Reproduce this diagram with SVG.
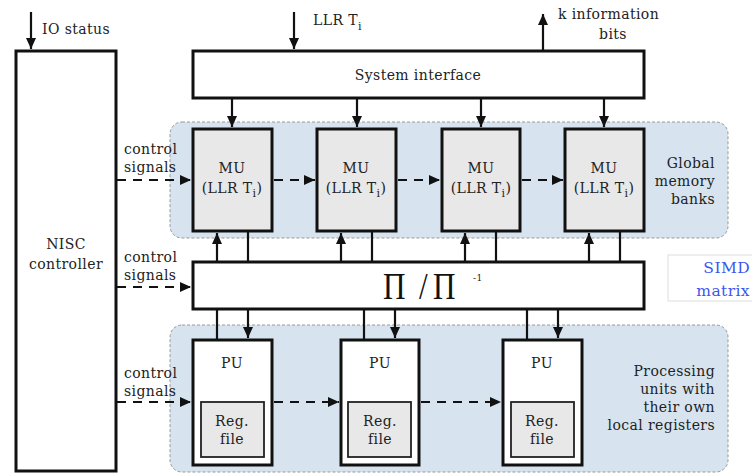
<svg xmlns="http://www.w3.org/2000/svg" width="752" height="473" viewBox="0 0 752 473" font-family="'DejaVu Serif', 'Liberation Serif', serif">
<style>
text{font-family:"DejaVu Serif","Liberation Serif",serif;font-size:14px;letter-spacing:0.4px;fill:#222}
.box{fill:#fff;stroke:#111;stroke-width:3}
.mu{fill:#e8e8e8;stroke:#111;stroke-width:3}
.reg{fill:#e8e8e8;stroke:#222;stroke-width:1.8}
.region{fill:#d7e4f0;stroke:#999;stroke-width:1;stroke-dasharray:3 2}
.ln{stroke:#111;stroke-width:2.2;fill:none}
.dash{stroke:#111;stroke-width:2.2;fill:none;stroke-dasharray:9 7}
.mid{text-anchor:middle}
.end{text-anchor:end}
.pi{font-family:"Liberation Serif","Times New Roman",serif;font-size:38px;letter-spacing:0;fill:#111}
.simd{fill:#3a56f0;font-size:15.5px}
</style>
<defs>
<marker id="ah" markerUnits="userSpaceOnUse" markerWidth="12" markerHeight="12" viewBox="0 0 12 12" refX="11" refY="6" orient="auto">
<path d="M0,1 L11,6 L0,11 z" fill="#111"/>
</marker>
</defs>
<rect width="752" height="473" fill="#fff"/>
<g id="regions">
<rect class="region" x="170" y="122" width="558" height="116" rx="12"/>
<rect class="region" x="170" y="325" width="558" height="147" rx="12"/>
</g>
<g id="nisc"><rect class="box" x="16" y="51" width="100" height="420"/>
<text class="mid" x="66" y="249">NISC</text><text class="mid" x="66" y="269">controller</text></g>
<g id="sysif"><rect class="box" x="193" y="51" width="451" height="47"/>
<text class="mid" x="418" y="80">System interface</text></g>
<g id="mu1"><rect class="mu" x="193" y="129" width="79" height="102"/><text class="mid" x="232" y="173">MU</text><text class="mid" x="232" y="193">(LLR T<tspan font-size="11" dy="4">i</tspan><tspan dy="-4">)</tspan></text></g>
<g id="mu2"><rect class="mu" x="317" y="129" width="79" height="102"/><text class="mid" x="356" y="173">MU</text><text class="mid" x="356" y="193">(LLR T<tspan font-size="11" dy="4">i</tspan><tspan dy="-4">)</tspan></text></g>
<g id="mu3"><rect class="mu" x="442" y="129" width="78" height="102"/><text class="mid" x="481" y="173">MU</text><text class="mid" x="481" y="193">(LLR T<tspan font-size="11" dy="4">i</tspan><tspan dy="-4">)</tspan></text></g>
<g id="mu4"><rect class="mu" x="565" y="129" width="79" height="102"/><text class="mid" x="604" y="173">MU</text><text class="mid" x="604" y="193">(LLR T<tspan font-size="11" dy="4">i</tspan><tspan dy="-4">)</tspan></text></g>
<g id="perm"><rect class="box" x="193" y="262" width="451" height="47"/>
<text class="pi" transform="translate(383,299) scale(0.82,1)"><tspan x="0" y="0">Π</tspan><tspan x="44" y="0">/</tspan><tspan x="61" y="0">Π</tspan></text>
<text x="473" y="281" style="font-size:9px">-1</text></g>
<g id="pu1"><rect class="box" x="193" y="340" width="79" height="125"/><text class="mid" x="232" y="368">PU</text>
<rect class="reg" x="201" y="402" width="63" height="55"/><text class="mid" x="232" y="426">Reg.</text><text class="mid" x="232" y="444">file</text></g>
<g id="pu2"><rect class="box" x="341" y="340" width="78" height="125"/><text class="mid" x="380" y="368">PU</text>
<rect class="reg" x="348" y="402" width="63" height="55"/><text class="mid" x="380" y="426">Reg.</text><text class="mid" x="380" y="444">file</text></g>
<g id="pu3"><rect class="box" x="503" y="340" width="79" height="125"/><text class="mid" x="542" y="368">PU</text>
<rect class="reg" x="511" y="402" width="63" height="55"/><text class="mid" x="542" y="426">Reg.</text><text class="mid" x="542" y="444">file</text></g>
<g id="labels">
<text x="42" y="34">IO status</text>
<text x="313" y="25">LLR  T<tspan font-size="11" dy="5">i</tspan></text>
<text x="558" y="19">k information</text>
<text class="mid" x="613" y="39">bits</text>
<text class="end" x="715" y="168">Global</text><text class="end" x="715" y="186">memory</text><text class="end" x="715" y="204">banks</text>
<text class="end" x="715" y="376">Processing</text><text class="end" x="715" y="394">units with</text><text class="end" x="715" y="412">their own</text><text class="end" x="715" y="430">local registers</text>
<text x="124" y="154">control</text><text x="124" y="172">signals</text>
<text x="124" y="262">control</text><text x="124" y="280">signals</text>
<text x="124" y="378">control</text><text x="124" y="396">signals</text>
</g>
<g id="simd"><rect x="668" y="255" width="86" height="46" fill="#fff" stroke="#ddd" stroke-width="1"/>
<text class="end simd" x="750" y="273">SIMD</text><text class="end simd" x="750" y="296">matrix</text></g>
<g id="connectors">
<line class="ln" x1="31" y1="12" x2="31" y2="49" marker-end="url(#ah)"/>
<line class="ln" x1="294" y1="12" x2="294" y2="49" marker-end="url(#ah)"/>
<line class="ln" x1="543" y1="50" x2="543" y2="14" marker-end="url(#ah)"/>
<line class="ln" x1="232" y1="99" x2="232" y2="127" marker-end="url(#ah)"/>
<line class="ln" x1="357" y1="99" x2="357" y2="127" marker-end="url(#ah)"/>
<line class="ln" x1="481" y1="99" x2="481" y2="127" marker-end="url(#ah)"/>
<line class="ln" x1="604" y1="99" x2="604" y2="127" marker-end="url(#ah)"/>
<line class="dash" x1="117" y1="180" x2="191" y2="180" marker-end="url(#ah)"/>
<line class="dash" x1="274" y1="180" x2="315" y2="180" marker-end="url(#ah)"/>
<line class="dash" x1="398" y1="180" x2="440" y2="180" marker-end="url(#ah)"/>
<line class="dash" x1="522" y1="180" x2="563" y2="180" marker-end="url(#ah)"/>
<line class="ln" x1="217" y1="261" x2="217" y2="233" marker-end="url(#ah)"/>
<line class="ln" x1="248" y1="232" x2="248" y2="261"/>
<line class="ln" x1="341" y1="261" x2="341" y2="233" marker-end="url(#ah)"/>
<line class="ln" x1="372" y1="232" x2="372" y2="261"/>
<line class="ln" x1="465" y1="261" x2="465" y2="233" marker-end="url(#ah)"/>
<line class="ln" x1="496" y1="232" x2="496" y2="261"/>
<line class="ln" x1="589" y1="261" x2="589" y2="233" marker-end="url(#ah)"/>
<line class="ln" x1="620" y1="232" x2="620" y2="261"/>
<line class="dash" x1="117" y1="287" x2="191" y2="287" marker-end="url(#ah)"/>
<line class="ln" x1="217" y1="310" x2="217" y2="339"/>
<line class="ln" x1="248" y1="310" x2="248" y2="338" marker-end="url(#ah)"/>
<line class="ln" x1="364" y1="310" x2="364" y2="339"/>
<line class="ln" x1="395" y1="310" x2="395" y2="338" marker-end="url(#ah)"/>
<line class="ln" x1="527" y1="310" x2="527" y2="339"/>
<line class="ln" x1="558" y1="310" x2="558" y2="338" marker-end="url(#ah)"/>
<line class="dash" x1="117" y1="402" x2="191" y2="402" marker-end="url(#ah)"/>
<line class="dash" x1="274" y1="402" x2="339" y2="402" marker-end="url(#ah)"/>
<line class="dash" x1="421" y1="402" x2="501" y2="402" marker-end="url(#ah)"/>
</g>
</svg>
